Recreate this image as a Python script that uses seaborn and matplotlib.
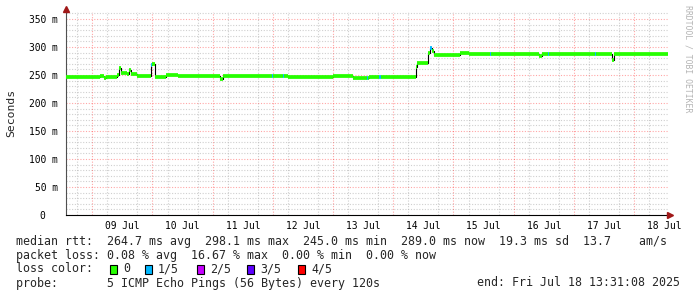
import matplotlib
matplotlib.use("Agg")
import matplotlib.pyplot as plt
import matplotlib.dates as mdates
from matplotlib.ticker import MultipleLocator, FuncFormatter, FixedLocator
from matplotlib.patches import Rectangle
import seaborn as sns
import pandas as pd

# ---------------- data ----------------
range_start = "2025-07-08 13:31"
range_end = "2025-07-18 13:31:08"

seg_start = [
    "2025-07-08 13:31", "2025-07-09 03:05", "2025-07-09 04:40", "2025-07-09 05:28",
    "2025-07-09 09:51", "2025-07-09 10:39", "2025-07-09 11:27", "2025-07-09 13:50",
    "2025-07-09 14:38", "2025-07-09 15:26", "2025-07-09 17:50", "2025-07-09 22:36",
    "2025-07-09 23:24", "2025-07-09 23:48", "2025-07-10 01:00", "2025-07-10 05:23",
    "2025-07-10 10:10", "2025-07-11 02:55", "2025-07-11 04:07", "2025-07-11 23:39",
    "2025-07-12 00:03", "2025-07-12 04:01", "2025-07-12 04:25", "2025-07-12 06:01",
    "2025-07-13 00:00", "2025-07-13 07:55", "2025-07-13 13:31", "2025-07-13 13:55",
    "2025-07-13 14:19", "2025-07-13 18:19", "2025-07-13 19:07", "2025-07-14 09:01",
    "2025-07-14 09:25", "2025-07-14 13:49", "2025-07-14 14:37", "2025-07-14 15:25",
    "2025-07-14 16:13", "2025-07-14 23:25", "2025-07-15 02:37", "2025-07-15 06:13",
    "2025-07-15 14:31", "2025-07-15 14:55", "2025-07-16 10:07", "2025-07-16 11:19",
    "2025-07-16 13:43", "2025-07-16 14:07", "2025-07-17 08:25", "2025-07-17 08:49",
    "2025-07-17 15:13", "2025-07-17 16:01",
]
seg_rtt_ms = [
    246, 249, 245, 246,
    250, 262, 253, 252,
    259, 252, 249, 248,
    268, 270, 247, 250,
    248, 242, 248, 248,
    248, 248, 248, 246,
    248, 244, 244, 244,
    247, 247, 247, 265,
    272, 290, 298, 293,
    285, 286, 290, 287,
    287, 287, 284, 288,
    288, 288, 288, 288,
    277, 288,
]
seg_loss = [
    0, 0, 0, 0,
    0, 0, 0, 0,
    0, 0, 0, 0,
    1, 0, 0, 0,
    0, 0, 0, 1,
    0, 1, 0, 0,
    0, 0, 1, 0,
    0, 1, 0, 0,
    0, 0, 1, 0,
    0, 0, 0, 0,
    1, 0, 0, 0,
    1, 0, 1, 0,
    0, 0,
]

loss_labels = ["0", "1/5", "2/5", "3/5", "4/5"]
loss_colors = ["#26ff00", "#00b8ff", "#c600ff", "#5e00ff", "#ff0000"]

y_max_ms = 362.5
y_major_ms = [0, 50, 100, 150, 200, 250, 300, 350]

legend_rtt = "median rtt:  264.7 ms avg  298.1 ms max  245.0 ms min  289.0 ms now  19.3 ms sd  13.7    am/s"
legend_loss = "packet loss: 0.08 % avg  16.67 % max  0.00 % min  0.00 % now"
legend_color_title = "loss color:"
legend_probe = "probe:       5 ICMP Echo Pings (56 Bytes) every 120s"
legend_end = "end: Fri Jul 18 13:31:08 2025"
watermark = "RRDTOOL / TOBI OETIKER"
y_title = "Seconds"

# ---------------- figure ----------------
sns.set_theme(style="white")
plt.rcParams["font.family"] = ["DejaVu Sans Mono"]

W, H = 697, 297
fig = plt.figure(figsize=(W / 100, H / 100), dpi=100)
fig.patch.set_facecolor("white")
ax = fig.add_axes([66 / W, (H - 215) / H, (668 - 66) / W, (215 - 12) / H])
ax.set_facecolor("white")

starts = pd.to_datetime(seg_start)
end_ts = pd.Timestamp(range_end)
ends = list(starts[1:]) + [end_ts]
df = pd.DataFrame({"t": list(starts) + [end_ts],
                   "rtt": seg_rtt_ms + [seg_rtt_ms[-1]]})

sns.lineplot(data=df, x="t", y="rtt", drawstyle="steps-post", color="black",
             lw=0.8, ax=ax, zorder=3)
ax.hlines(seg_rtt_ms, mdates.date2num(starts), mdates.date2num(ends),
          colors=[loss_colors[l] for l in seg_loss], lw=2.7, zorder=4)

ax.set_xlim(pd.Timestamp(range_start), end_ts)
ax.set_ylim(0, y_max_ms)

# y grid
ax.yaxis.set_major_locator(FixedLocator(y_major_ms))
ax.yaxis.set_minor_locator(MultipleLocator(10))
ax.yaxis.set_major_formatter(FuncFormatter(lambda v, p: "0  " if v == 0 else f"{int(v)} m"))
ax.grid(which="major", axis="y", color="#ff0000", alpha=0.35, lw=0.8, ls=(0, (1, 1.5)))
ax.grid(which="minor", axis="y", color="#b0b0b0", alpha=0.6, lw=0.8, ls=(0, (1, 1.5)))

# x grid
ax.xaxis.set_major_locator(mdates.HourLocator(byhour=[12]))
ax.xaxis.set_major_formatter(mdates.DateFormatter("%d %b"))
ax.xaxis.set_minor_locator(mdates.HourLocator(byhour=[6, 12, 18]))
ax.grid(which="minor", axis="x", color="#b0b0b0", alpha=0.6, lw=0.8, ls=(0, (1, 1.5)))
midnights = pd.date_range("2025-07-09", "2025-07-18", freq="D")
ax.vlines(mdates.date2num(midnights), 0, y_max_ms, colors="#ff0000", alpha=0.35,
          lw=0.8, ls=(0, (1, 1.5)), zorder=1)
ax.set_axisbelow(True)

ax.tick_params(axis="both", which="both", length=0, labelsize=6.9, colors="black")
ax.tick_params(axis="y", pad=6)
ax.tick_params(axis="x", pad=4)
ax.set_xlabel("")
ax.set_ylabel("")

for s in ["top", "right"]:
    ax.spines[s].set_visible(False)
ax.spines["left"].set_color("#505050")
ax.spines["bottom"].set_color("black")
ax.spines["left"].set_linewidth(0.8)
ax.spines["bottom"].set_linewidth(0.8)

# axis arrows
ax.plot([0], [1 + 3 / 203], marker="^", color="#a01818", ms=4.5,
        transform=ax.transAxes, clip_on=False, zorder=6)
ax.plot([1 + 2 / 602], [0], marker=">", color="#a01818", ms=4.5,
        transform=ax.transAxes, clip_on=False, zorder=6)

# texts
def px(x, y):
    return x / W, 1 - y / H

fs = 8.4
fig.text(*px(11, 113), y_title, rotation=90, ha="center", va="center", fontsize=8.2)
fig.text(*px(688, 59), watermark, rotation=270, ha="center", va="center",
         fontsize=5.9, color="#b4b4b4")
fig.text(*px(16, 241), legend_rtt, ha="left", va="center", fontsize=fs)
fig.text(*px(16, 255), legend_loss, ha="left", va="center", fontsize=fs)
fig.text(*px(16, 269), legend_color_title, ha="left", va="center", fontsize=fs)
fig.text(*px(16, 283), legend_probe, ha="left", va="center", fontsize=fs)
fig.text(*px(680, 283), legend_end, ha="right", va="center", fontsize=fs)

box_x = [110, 145, 197, 247, 298]
for bx, lab, col in zip(box_x, loss_labels, loss_colors):
    fig.patches.append(Rectangle(((bx) / W, 1 - 273.5 / H), 7 / W, 9 / H,
                                 transform=fig.transFigure, facecolor=col,
                                 edgecolor="black", lw=0.8))
    fig.text(*px(bx + 13, 269), lab, ha="left", va="center", fontsize=fs)

fig.savefig("out.png", dpi=100, facecolor="white")
